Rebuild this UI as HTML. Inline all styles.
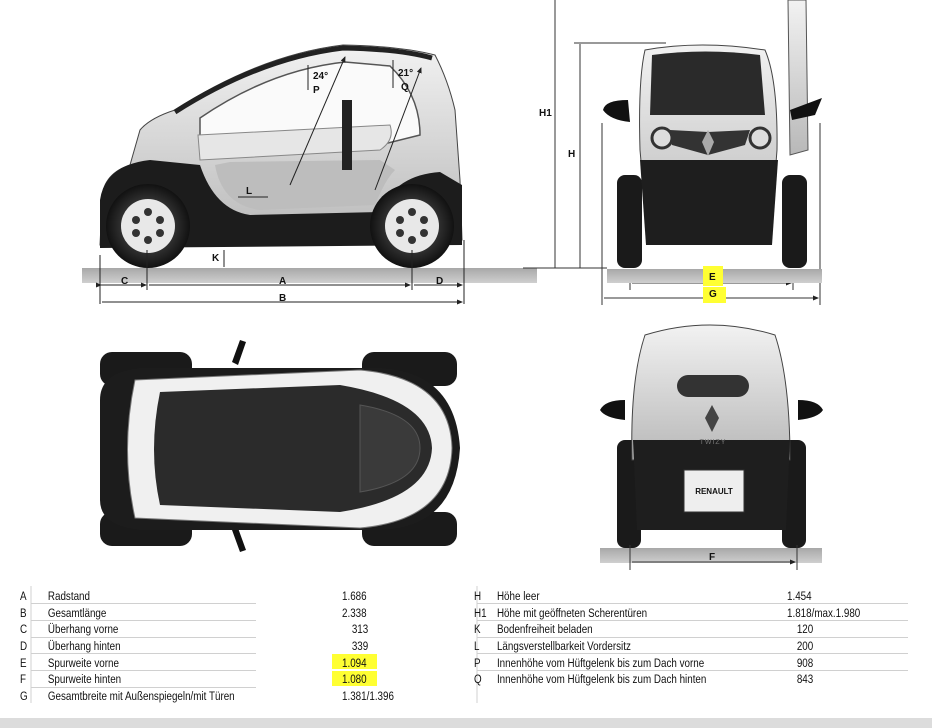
<!DOCTYPE html>
<html><head><meta charset="utf-8"><style>
body{margin:0;background:#fff;width:932px;height:728px;overflow:hidden;font-family:"Liberation Sans",Arial,sans-serif}
svg{position:absolute;left:0;top:0}
</style></head><body>
<svg width="932" height="728" viewBox="0 0 932 728">
<defs>
<linearGradient id="gr" x1="0" y1="0" x2="0" y2="1"><stop offset="0" stop-color="#a8a8a8"/><stop offset="1" stop-color="#cfcfcf"/></linearGradient>
<linearGradient id="body" x1="0" y1="0" x2="0" y2="1"><stop offset="0" stop-color="#f2f2f2"/><stop offset="1" stop-color="#b8b8b8"/></linearGradient>
<radialGradient id="tire" cx="0.5" cy="0.5" r="0.5"><stop offset="0.6" stop-color="#333"/><stop offset="1" stop-color="#111"/></radialGradient>
<marker id="ar" markerWidth="6" markerHeight="6" refX="5" refY="3" orient="auto"><path d="M0,0.5 L6,3 L0,5.5z" fill="#222"/></marker>
</defs>
<!-- SIDE VIEW -->
<rect x="82" y="268" width="455" height="15" fill="url(#gr)"/>
<path d="M102,205 Q100,175 130,165 L140,130 Q150,118 175,110 Q260,55 343,45 Q400,46 435,55 Q448,80 455,110 L460,180 L462,240 L100,245 Z" fill="url(#body)" stroke="#444" stroke-width="1"/>
<path d="M175,112 Q260,58 343,48 Q400,49 432,58" fill="none" stroke="#222" stroke-width="5"/>
<path d="M200,118 Q270,70 345,62 L390,66 Q420,95 420,135 L380,145 L300,140 L200,150 Z" fill="#fafafa" stroke="#555" stroke-width="1.5"/>
<path d="M198,135 L390,125 Q395,140 380,150 L200,160 Z" fill="#e6e6e6" stroke="#888"/>
<path d="M100,200 Q105,165 150,160 L200,165 Q215,210 250,215 L380,212 Q395,175 440,172 L462,185 L462,245 L100,248 Z" fill="#1c1c1c"/>
<path d="M215,165 Q222,205 260,210 L375,205 Q385,180 395,170 L380,160 L230,162 Z" fill="#bdbdbd"/>
<rect x="342" y="100" width="10" height="70" fill="#222"/>
<circle cx="148" cy="226" r="42" fill="url(#tire)"/><circle cx="148" cy="226" r="27" fill="#e8e8e8"/>
<circle cx="412" cy="226" r="42" fill="url(#tire)"/><circle cx="412" cy="226" r="27" fill="#e8e8e8"/>
<g fill="#333"><circle cx="148" cy="212" r="4"/><circle cx="136" cy="220" r="4"/><circle cx="160" cy="220" r="4"/><circle cx="136" cy="233" r="4"/><circle cx="160" cy="233" r="4"/><circle cx="148" cy="240" r="4"/>
<circle cx="412" cy="212" r="4"/><circle cx="400" cy="220" r="4"/><circle cx="424" cy="220" r="4"/><circle cx="400" cy="233" r="4"/><circle cx="424" cy="233" r="4"/><circle cx="412" cy="240" r="4"/></g>
<g stroke="#222" stroke-width="1" fill="none">
<line x1="290" y1="185" x2="345" y2="57" marker-end="url(#ar)"/>
<line x1="375" y1="190" x2="421" y2="68" marker-end="url(#ar)"/>
<line x1="308" y1="65" x2="308" y2="90"/><line x1="393" y1="60" x2="393" y2="88"/>
<line x1="224" y1="250" x2="224" y2="267"/>
<line x1="100" y1="255" x2="100" y2="304"/><line x1="147" y1="250" x2="147" y2="290"/><line x1="412" y1="250" x2="412" y2="290"/><line x1="464" y1="240" x2="464" y2="304"/>
<line x1="101" y1="285" x2="146" y2="285" marker-end="url(#ar)" marker-start="url(#ar)"/>
<line x1="149" y1="285" x2="410" y2="285" marker-end="url(#ar)"/>
<line x1="414" y1="285" x2="462" y2="285" marker-end="url(#ar)"/>
<line x1="102" y1="302" x2="462" y2="302" marker-end="url(#ar)"/>
<line x1="238" y1="197" x2="268" y2="197"/>
</g>
<g font-family="Liberation Sans" font-weight="bold" font-size="10" fill="#111">
<text x="313" y="79">24°</text><text x="313" y="93">P</text><text x="398" y="76">21°</text><text x="401" y="90">Q</text>
<text x="246" y="194">L</text><text x="212" y="261">K</text>
<text x="121" y="284">C</text><text x="279" y="284">A</text><text x="436" y="284">D</text><text x="279" y="301">B</text>
<text x="539" y="116">H1</text><text x="568" y="157">H</text>
</g>
<!-- FRONT VIEW -->
<g stroke="#333" stroke-width="1" fill="none">
<line x1="555" y1="0" x2="555" y2="268"/><line x1="580" y1="44" x2="580" y2="268"/>
<line x1="574" y1="43" x2="666" y2="43"/><line x1="523" y1="268" x2="607" y2="268"/>
<line x1="602" y1="123" x2="602" y2="305"/><line x1="820" y1="123" x2="820" y2="305"/>
<line x1="630" y1="270" x2="630" y2="290"/><line x1="793" y1="270" x2="793" y2="290"/>
<line x1="632" y1="283" x2="791" y2="283" marker-end="url(#ar)"/>
<line x1="604" y1="298" x2="818" y2="298" marker-end="url(#ar)"/>
</g>
<rect x="607" y="269" width="215" height="14" fill="url(#gr)"/>
<rect x="617" y="175" width="25" height="93" rx="8" fill="#1a1a1a"/><rect x="782" y="175" width="25" height="93" rx="8" fill="#1a1a1a"/>
<path d="M645,50 Q700,40 765,50 Q778,80 777,150 L770,240 L648,240 L640,150 Q638,80 645,50Z" fill="url(#body)" stroke="#444"/>
<path d="M652,55 Q705,48 760,55 L765,115 L650,115 Z" fill="#2a2a2a"/>
<path d="M640,160 L778,160 L772,245 L646,245 Z" fill="#1e1e1e"/>
<circle cx="662" cy="138" r="10" fill="#ddd" stroke="#333" stroke-width="3"/><circle cx="760" cy="138" r="10" fill="#ddd" stroke="#333" stroke-width="3"/>
<path d="M670,130 L708,132 L750,130 L745,145 L708,155 L672,145Z" fill="#333"/>
<path d="M708,130 L714,142 L708,156 L702,142Z" fill="#aaa"/>
<path d="M603,110 Q605,100 628,100 L630,122 Q610,120 603,110Z" fill="#111"/>
<path d="M788,0 L806,0 L808,150 L790,155 Z" fill="url(#body)" stroke="#555"/>
<path d="M790,110 L822,98 L815,115 L792,120Z" fill="#111"/>
<rect x="703" y="266" width="20" height="20" fill="#ffff33"/><rect x="703" y="287" width="23" height="16" fill="#ffff33"/>
<g font-family="Liberation Sans" font-weight="bold" font-size="10" fill="#111"><text x="709" y="280">E</text><text x="709" y="297">G</text></g>
<!-- TOP VIEW -->
<rect x="100" y="352" width="92" height="34" rx="12" fill="#1a1a1a"/><rect x="362" y="352" width="95" height="34" rx="12" fill="#1a1a1a"/>
<rect x="100" y="512" width="92" height="34" rx="12" fill="#1a1a1a"/><rect x="362" y="512" width="95" height="34" rx="12" fill="#1a1a1a"/>
<path d="M240,340 L246,342 L238,365 L232,362Z M240,552 L246,550 L238,528 L232,530Z" fill="#111"/>
<path d="M100,400 Q100,372 140,368 L380,368 Q455,372 460,448 Q455,528 380,530 L140,530 Q100,526 100,500Z" fill="#1c1c1c"/>
<path d="M135,380 L360,370 Q450,378 452,448 Q450,520 360,528 L135,518 Q120,450 135,380Z" fill="#f0f0f0" stroke="#777"/>
<path d="M160,392 L340,385 Q430,400 432,448 Q430,498 340,512 L160,505 Q148,450 160,392Z" fill="#2b2b2b"/>
<path d="M360,405 Q420,415 420,448 Q420,482 360,492Z" fill="#3a3a3a" stroke="#555"/>
<!-- REAR VIEW -->
<rect x="600" y="548" width="222" height="15" fill="url(#gr)"/>
<rect x="617" y="440" width="24" height="108" rx="8" fill="#1a1a1a"/><rect x="782" y="440" width="24" height="108" rx="8" fill="#1a1a1a"/>
<path d="M645,335 Q710,315 775,335 Q790,380 790,460 L632,460 Q630,380 645,335Z" fill="url(#body)" stroke="#444"/>
<path d="M633,440 L790,440 L786,530 L637,530Z" fill="#1e1e1e"/>
<rect x="677" y="375" width="72" height="22" rx="11" fill="#333"/>
<path d="M712,405 L719,418 L712,432 L705,418Z" fill="#444"/>
<text x="713" y="444" font-size="7" fill="#777" text-anchor="middle" letter-spacing="1">TWIZY</text>
<rect x="684" y="470" width="60" height="42" fill="#eee" stroke="#333"/>
<text x="714" y="494" font-size="8" font-weight="bold" fill="#111" text-anchor="middle">RENAULT</text>
<path d="M600,410 Q605,400 625,400 L625,420 Q605,418 600,410Z M823,410 Q818,400 798,400 L798,420 Q818,418 823,410Z" fill="#111"/>
<g stroke="#333"><line x1="630" y1="545" x2="630" y2="570"/><line x1="797" y1="545" x2="797" y2="570"/>
<line x1="632" y1="562" x2="795" y2="562" marker-end="url(#ar)"/></g>
<text x="709" y="560" font-family="Liberation Sans" font-weight="bold" font-size="10" fill="#111">F</text>
<!-- TABLE -->
<rect x="332" y="654" width="45" height="15" fill="#ffff33"/><rect x="332" y="671" width="45" height="15" fill="#ffff33"/>
<g stroke="#d0d0d0" stroke-width="1">
<line x1="31" y1="586" x2="31" y2="703"/><line x1="477" y1="586" x2="477" y2="703"/>
<line x1="31" y1="603.5" x2="256" y2="603.5"/><line x1="31" y1="620.5" x2="256" y2="620.5"/><line x1="31" y1="637.5" x2="256" y2="637.5"/><line x1="31" y1="653.5" x2="256" y2="653.5"/><line x1="31" y1="670.5" x2="256" y2="670.5"/><line x1="31" y1="687.5" x2="256" y2="687.5"/>
<line x1="477" y1="603.5" x2="908" y2="603.5"/><line x1="477" y1="620.5" x2="908" y2="620.5"/><line x1="477" y1="637.5" x2="908" y2="637.5"/><line x1="477" y1="653.5" x2="908" y2="653.5"/><line x1="477" y1="670.5" x2="908" y2="670.5"/>
</g>
<g font-family="Liberation Sans" font-size="12" fill="#111">
<g transform="translate(20,0) scale(0.82,1)">
<text x="0" y="600">A</text><text x="0" y="617">B</text><text x="0" y="633">C</text><text x="0" y="650">D</text><text x="0" y="667">E</text><text x="0" y="683">F</text><text x="0" y="700">G</text>
<text x="34" y="600">Radstand</text><text x="34" y="617">Gesamtlänge</text><text x="34" y="633">Überhang vorne</text><text x="34" y="650">Überhang hinten</text><text x="34" y="667">Spurweite vorne</text><text x="34" y="683">Spurweite hinten</text><text x="34" y="700">Gesamtbreite mit Außenspiegeln/mit Türen</text>
</g>
<g transform="translate(342,0) scale(0.82,1)">
<text x="0" y="600">1.686</text><text x="0" y="617">2.338</text><text x="12" y="633">313</text><text x="12" y="650">339</text><text x="0" y="667">1.094</text><text x="0" y="683">1.080</text><text x="0" y="700">1.381/1.396</text>
</g>
<g transform="translate(474,0) scale(0.82,1)">
<text x="0" y="600">H</text><text x="0" y="617">H1</text><text x="0" y="633">K</text><text x="0" y="650">L</text><text x="0" y="667">P</text><text x="0" y="683">Q</text>
<text x="28" y="600">Höhe leer</text><text x="28" y="617">Höhe mit geöffneten Scherentüren</text><text x="28" y="633">Bodenfreiheit beladen</text><text x="28" y="650">Längsverstellbarkeit Vordersitz</text><text x="28" y="667">Innenhöhe vom Hüftgelenk bis zum Dach vorne</text><text x="28" y="683">Innenhöhe vom Hüftgelenk bis zum Dach hinten</text>
</g>
<g transform="translate(787,0) scale(0.82,1)">
<text x="0" y="600">1.454</text><text x="0" y="617">1.818/max.1.980</text><text x="12" y="633">120</text><text x="12" y="650">200</text><text x="12" y="667">908</text><text x="12" y="683">843</text>
</g>
</g>
<rect x="0" y="718" width="932" height="10" fill="#dcdcdc"/>
</svg>
</body></html>
